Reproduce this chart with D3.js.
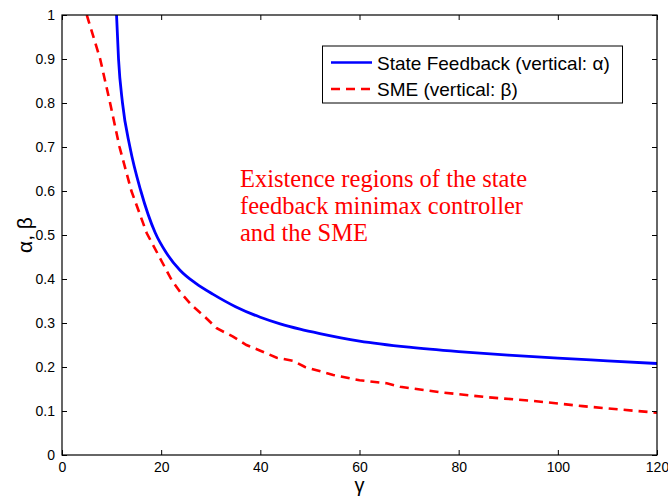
<!DOCTYPE html>
<html>
<head>
<meta charset="utf-8">
<script src="https://cdn.jsdelivr.net/npm/d3@7"></script>
<style>
  body { margin: 0; background: #fff; }
  svg { display: block; }
</style>
</head>
<body>
<svg id="chart" width="668" height="497"></svg>
<script>
// Existence boundary of the state feedback minimax controller (alpha vs gamma)
const gammaStateFeedback = [11.0, 11.4, 12.2, 13.7, 15.9, 18.8, 21, 23.8, 27, 30.5, 35, 40, 44, 48, 52, 60, 70, 80, 90, 100, 110, 120];
const alphaStateFeedback = [1.0, 0.9, 0.8, 0.7, 0.6, 0.505, 0.46, 0.42, 0.39, 0.365, 0.337, 0.313, 0.298, 0.286, 0.276, 0.259, 0.245, 0.235, 0.227, 0.22, 0.214, 0.208];

// Existence boundary of the SME (beta vs gamma)
const gammaSME = [5.0, 7.7, 9.7, 11.6, 14.0, 17.1, 22.1, 23.8, 26.2, 28.8, 31.2, 34.5, 37.2, 40, 43.3, 46.6, 49, 54.7, 60, 65.5, 68.2, 76, 86, 95, 105, 120];
const betaSME = [1.0, 0.9, 0.8, 0.7, 0.6, 0.504, 0.398, 0.371, 0.34, 0.314, 0.288, 0.269, 0.25, 0.237, 0.221, 0.214, 0.2, 0.182, 0.17, 0.163, 0.155, 0.143, 0.131, 0.123, 0.111, 0.096];

const xTicks = [0, 20, 40, 60, 80, 100, 120];
const yTicks = [0, 0.1, 0.2, 0.3, 0.4, 0.5, 0.6, 0.7, 0.8, 0.9, 1];

const legendLabels = ["State Feedback (vertical: \u03B1)", "SME (vertical: \u03B2)"];
const noteLines = ["Existence regions of the state", "feedback minimax controller", "and the SME"];

const margin = { left: 62, right: 11, top: 15, bottom: 42 };
const W = 668, H = 497;
const svg = d3.select("#chart");

const x = d3.scaleLinear().domain([0, 120]).range([margin.left, W - margin.right]);
const y = d3.scaleLinear().domain([0, 1]).range([H - margin.bottom, margin.top]);

const sansFont = "Liberation Sans, Arial, Helvetica, sans-serif";

// curves, clipped to the plot box
svg.append("clipPath").attr("id", "plotclip").append("rect")
  .attr("x", x(0)).attr("y", y(1)).attr("width", x(120) - x(0)).attr("height", y(0) - y(1));

const plot = svg.append("g").attr("clip-path", "url(#plotclip)");

const sfPts = gammaStateFeedback.map((g, i) => [g, alphaStateFeedback[i]]);
const smePts = gammaSME.map((g, i) => [g, betaSME[i]]);

plot.append("path")
  .datum(smePts)
  .attr("fill", "none").attr("stroke", "#ff0000").attr("stroke-width", 2.6)
  .attr("stroke-dasharray", "9,6")
  .attr("d", d3.line().x(d => x(d[0])).y(d => y(d[1])).curve(d3.curveLinear));

plot.append("path")
  .datum(sfPts)
  .attr("fill", "none").attr("stroke", "#0000ff").attr("stroke-width", 2.8)
  .attr("d", d3.line().x(d => x(d[0])).y(d => y(d[1])).curve(d3.curveMonotoneX));

// axes: ticks point inward on all four sides
const tickLen = 5;
const axisBottom = d3.axisBottom(x).tickValues(xTicks).tickSizeInner(-tickLen).tickSizeOuter(0).tickPadding(7).tickFormat(d3.format("d"));
const axisTop = d3.axisTop(x).tickValues(xTicks).tickSizeInner(-tickLen).tickSizeOuter(0).tickFormat("");
const axisLeft = d3.axisLeft(y).tickValues(yTicks).tickSizeInner(-tickLen).tickSizeOuter(0).tickPadding(7).tickFormat(d => d === 0 || d === 1 ? d3.format("d")(d) : d3.format(".1f")(d));
const axisRight = d3.axisRight(y).tickValues(yTicks).tickSizeInner(-tickLen).tickSizeOuter(0).tickFormat("");

function styleAxis(g) {
  g.select(".domain").remove();
  g.selectAll(".tick line").attr("stroke", "#000").attr("stroke-width", 1);
  g.selectAll(".tick text").attr("fill", "#000").style("font-family", sansFont).style("font-size", "14px");
}

svg.append("g").attr("transform", `translate(0,${y(0)})`).call(axisBottom).call(styleAxis);
svg.append("g").attr("transform", `translate(0,${y(1)})`).call(axisTop).call(styleAxis);
svg.append("g").attr("transform", `translate(${x(0)},0)`).call(axisLeft).call(styleAxis);
svg.append("g").attr("transform", `translate(${x(120)},0)`).call(axisRight).call(styleAxis);

// frame
svg.append("rect")
  .attr("x", x(0)).attr("y", y(1)).attr("width", x(120) - x(0)).attr("height", y(0) - y(1))
  .attr("fill", "none").attr("stroke", "#000").attr("stroke-width", 1.2);

// axis titles
svg.append("text")
  .attr("x", x(60)).attr("y", 492)
  .attr("text-anchor", "middle")
  .style("font-family", sansFont).style("font-size", "20px")
  .text("\u03B3");

svg.append("text")
  .attr("transform", `translate(32,${y(0.5)}) rotate(-90)`)
  .attr("text-anchor", "middle")
  .style("font-family", sansFont).style("font-size", "21px")
  .text("\u03B1, \u03B2");

// legend
const legend = svg.append("g");
legend.append("rect")
  .attr("x", 322.5).attr("y", 46).attr("width", 300).attr("height", 57)
  .attr("fill", "#fff").attr("stroke", "#000").attr("stroke-width", 1);

const legendRows = [
  { label: legendLabels[0], color: "#0000ff", dash: null, yy: 62.5 },
  { label: legendLabels[1], color: "#ff0000", dash: "9,6", yy: 89 }
];
legendRows.forEach(r => {
  legend.append("line")
    .attr("x1", 331).attr("x2", 372).attr("y1", r.yy).attr("y2", r.yy)
    .attr("stroke", r.color).attr("stroke-width", 2.6)
    .attr("stroke-dasharray", r.dash);
  legend.append("text")
    .attr("x", 377).attr("y", r.yy + 7)
    .style("font-family", sansFont).style("font-size", "19px")
    .attr("fill", "#000")
    .text(r.label);
});

// annotation
const note = svg.append("text")
  .attr("x", 240).attr("y", 187)
  .attr("fill", "#ff0000")
  .style("font-family", "Liberation Serif, Times New Roman, serif")
  .style("font-size", "24.5px");
noteLines.forEach((t, i) => {
  note.append("tspan").attr("x", 240).attr("dy", i === 0 ? 0 : 27).text(t);
});
</script>
</body>
</html>
